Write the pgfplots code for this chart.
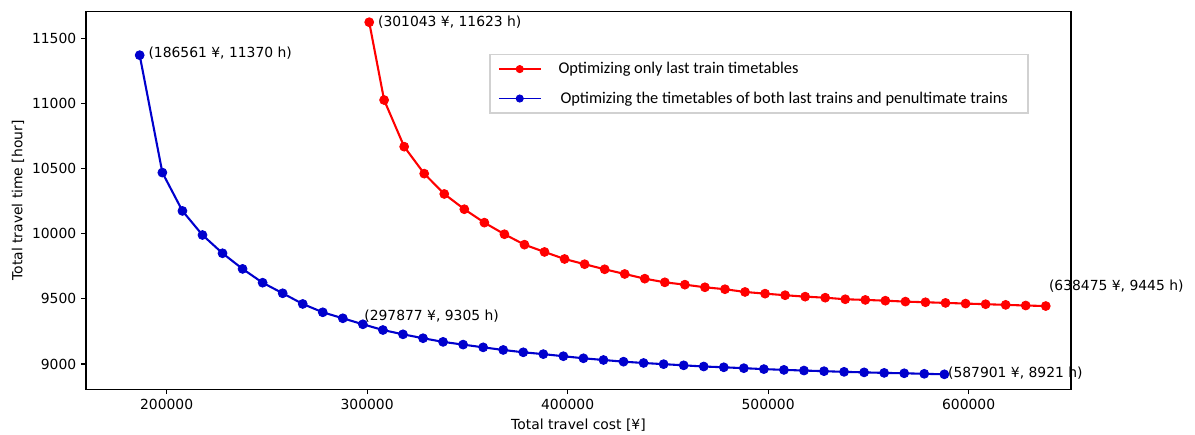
\documentclass[border=0pt]{standalone}
\usepackage{fontspec}
\setmainfont{DejaVu Sans}
\newfontfamily\carlito{Carlito}
\usepackage{pgfplots}
\pgfplotsset{compat=1.18}
\definecolor{mplred}{RGB}{255,0,0}
\definecolor{mplblue}{RGB}{0,0,205}

\begin{document}
\begin{tikzpicture}
\useasboundingbox (-61.9pt,-32.9pt) rectangle (798.5pt,280.3pt);
\begin{axis}[
  scale only axis, width=709.2pt, height=271.9pt,
  at={(0,0)}, anchor=south west,
  xmin=159771, xmax=651047, ymin=8806, ymax=11704,
  xtick={200000,300000,...,600000}, ytick={9000,9500,...,11500},
  scaled x ticks=false, scaled y ticks=false,
  /pgf/number format/fixed, /pgf/number format/precision=0,
  /pgf/number format/1000 sep={}, /pgf/number format/assume math mode=true,
  tick align=outside, major tick length=3.5pt,
  tick style={line width=0.8pt, black},
  xtick pos=left, ytick pos=left,
  axis line style={line width=0.8pt},
  xlabel={Total travel cost [¥]}, ylabel={Total travel time [hour]},
  every axis x label/.style={at={(axis description cs:0.5,-0.0945)}, anchor=center},
  every axis y label/.style={at={(axis description cs:-0.0691,0.5)}, rotate=90, anchor=center},
  clip=false,
  legend cell align=left,
  legend style={at={(axis description cs:0.4095,0.888)}, anchor=north west,
    draw=black!18, line width=0.9pt, font=\carlito\fontsize{11.8}{13}\selectfont,
    inner xsep=6pt, inner ysep=4.6pt, row sep=9.5pt, nodes={inner sep=1pt},
    /tikz/every odd column/.append style={column sep=11.5pt}},
  legend image code/.code={
    \draw[mark repeat=2, mark phase=2, #1, line width=0.9pt, mark size=2.6pt]
      plot coordinates {(0pt,0pt) (15pt,0pt) (30pt,0pt)};
  },
]
\addplot[color=mplred, line width=1.5pt, mark=*, mark size=3.2pt, mark options={line width=0.6pt}] coordinates {
(301043,11623) (308475,11026) (318475,10668) (328475,10461) (338475,10305)
(348475,10188) (358475,10085) (368475,9996) (378475,9916) (388475,9860)
(398475,9806) (408475,9766) (418475,9727) (428475,9691) (438475,9655)
(448475,9627) (458475,9609) (468475,9589) (478475,9574) (488475,9553)
(498475,9540) (508475,9528) (518475,9517) (528475,9509) (538475,9497)
(548475,9492) (558475,9486) (568475,9479) (578475,9474) (588475,9469)
(598475,9464) (608475,9459) (618475,9454) (628475,9449) (638475,9445)
};
\addlegendentry{Optimizing only last train timetables}
\addplot[color=mplblue, line width=1.5pt, mark=*, mark size=3.2pt, mark options={line width=0.6pt}] coordinates {
(186561,11370) (197877,10469) (207877,10175) (217877,9990) (227877,9850)
(237877,9730) (247877,9624) (257877,9543) (267877,9461) (277877,9397)
(287877,9351) (297877,9305) (307877,9261) (317877,9228) (327877,9198)
(337877,9170) (347877,9149) (357877,9128) (367877,9108) (377877,9090)
(387877,9076) (397877,9060) (407877,9044) (417877,9031) (427877,9018)
(437877,9008) (447877,8999) (457877,8990) (467877,8981) (477877,8975)
(487877,8968) (497877,8961) (507877,8955) (517877,8950) (527877,8945)
(537877,8940) (547877,8936) (557877,8932) (567877,8929) (577877,8925)
(587901,8921)
};
\addlegendentry{\hspace*{1.4pt}Optimizing the timetables of both last trains and penultimate trains\hspace*{7.5pt}}
\node[anchor=west, inner sep=0pt] at (axis cs:190827,11385) {(186561 ¥, 11370 h)};
\node[anchor=west, inner sep=0pt] at (axis cs:305334,11627) {(301043 ¥, 11623 h)};
\node[anchor=west, inner sep=0pt] at (axis cs:298504,9371) {(297877 ¥, 9305 h)};
\node[anchor=west, inner sep=0pt] at (axis cs:589631,8929) {(587901 ¥, 8921 h)};
\node[anchor=west, inner sep=0pt] at (axis cs:639980,9594) {(638475 ¥, 9445 h)};
\end{axis}
\end{tikzpicture}
\end{document}
